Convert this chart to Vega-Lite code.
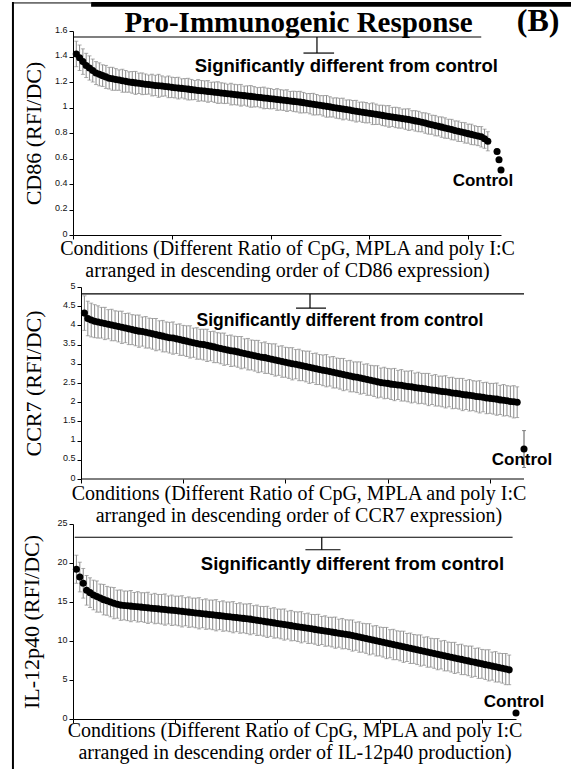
{
  "$schema": "https://vega.github.io/schema/vega-lite/v6.json",
  "background": "white",
  "padding": {"left": 11, "top": 0, "right": 0, "bottom": 0},
  "bounds": "flush",
  "spacing": 52,
  "config": {
    "view": {"stroke": null},
    "axis": {"grid": false, "domainColor": "black", "tickColor": "black", "tickSize": 4, "domainWidth": 1, "tickWidth": 1,
      "labelFont": "Liberation Sans", "labelFontSize": 9, "labelColor": "#111", "labelPadding": 2, "labelOverlap": false, "labelBound": false,
      "titleFont": "Liberation Serif", "titleFontSize": 20, "titleFontWeight": "normal", "titleColor": "black", "titleLineHeight": 22}
  },
  "datasets": {
    "cd86": [
      {"i":1,"v":1.42,"e":0.1},{"i":2,"v":1.39,"e":0.1},{"i":3,"v":1.36,"e":0.1},{"i":4,"v":1.33,"e":0.095},{"i":5,"v":1.31,"e":0.095},
      {"i":6,"v":1.29,"e":0.09},{"i":7,"v":1.27,"e":0.09},{"i":8,"v":1.26,"e":0.09},{"i":9,"v":1.25,"e":0.085},{"i":10,"v":1.24,"e":0.09},
      {"i":11,"v":1.23,"e":0.085},{"i":12,"v":1.225,"e":0.09},{"i":13,"v":1.22,"e":0.085},{"i":14,"v":1.215,"e":0.08},{"i":15,"v":1.21,"e":0.09},
      {"i":16,"v":1.205,"e":0.085},{"i":17,"v":1.2,"e":0.08},{"i":18,"v":1.197,"e":0.085},{"i":19,"v":1.193,"e":0.09},{"i":20,"v":1.19,"e":0.08},
      {"i":21,"v":1.186,"e":0.085},{"i":22,"v":1.183,"e":0.08},{"i":23,"v":1.18,"e":0.075},{"i":24,"v":1.176,"e":0.085},{"i":25,"v":1.173,"e":0.08},
      {"i":26,"v":1.17,"e":0.09},{"i":27,"v":1.168,"e":0.08},{"i":28,"v":1.165,"e":0.075},{"i":29,"v":1.162,"e":0.085},{"i":30,"v":1.158,"e":0.08},
      {"i":31,"v":1.155,"e":0.08},{"i":32,"v":1.152,"e":0.085},{"i":33,"v":1.15,"e":0.075},{"i":34,"v":1.147,"e":0.08},{"i":35,"v":1.144,"e":0.085},
      {"i":36,"v":1.14,"e":0.08},{"i":37,"v":1.137,"e":0.075},{"i":38,"v":1.134,"e":0.085},{"i":39,"v":1.132,"e":0.08},{"i":40,"v":1.129,"e":0.08},
      {"i":41,"v":1.126,"e":0.085},{"i":42,"v":1.123,"e":0.075},{"i":43,"v":1.12,"e":0.08},{"i":44,"v":1.117,"e":0.085},{"i":45,"v":1.114,"e":0.08},
      {"i":46,"v":1.111,"e":0.08},{"i":47,"v":1.108,"e":0.075},{"i":48,"v":1.105,"e":0.085},{"i":49,"v":1.102,"e":0.08},{"i":50,"v":1.099,"e":0.08},
      {"i":51,"v":1.096,"e":0.085},{"i":52,"v":1.093,"e":0.075},{"i":53,"v":1.09,"e":0.08},{"i":54,"v":1.087,"e":0.085},{"i":55,"v":1.084,"e":0.08},
      {"i":56,"v":1.081,"e":0.075},{"i":57,"v":1.078,"e":0.08},{"i":58,"v":1.075,"e":0.085},{"i":59,"v":1.072,"e":0.08},{"i":60,"v":1.069,"e":0.08},
      {"i":61,"v":1.066,"e":0.075},{"i":62,"v":1.063,"e":0.085},{"i":63,"v":1.06,"e":0.08},{"i":64,"v":1.057,"e":0.08},{"i":65,"v":1.054,"e":0.085},
      {"i":66,"v":1.051,"e":0.075},{"i":67,"v":1.048,"e":0.08},{"i":68,"v":1.045,"e":0.08},{"i":69,"v":1.042,"e":0.085},{"i":70,"v":1.038,"e":0.08},
      {"i":71,"v":1.034,"e":0.075},{"i":72,"v":1.03,"e":0.08},{"i":73,"v":1.026,"e":0.085},{"i":74,"v":1.022,"e":0.08},{"i":75,"v":1.018,"e":0.075},
      {"i":76,"v":1.013,"e":0.08},{"i":77,"v":1.009,"e":0.085},{"i":78,"v":1.005,"e":0.08},{"i":79,"v":1.0,"e":0.075},{"i":80,"v":0.996,"e":0.08},
      {"i":81,"v":0.992,"e":0.08},{"i":82,"v":0.988,"e":0.085},{"i":83,"v":0.984,"e":0.075},{"i":84,"v":0.98,"e":0.08},{"i":85,"v":0.975,"e":0.08},
      {"i":86,"v":0.971,"e":0.085},{"i":87,"v":0.967,"e":0.075},{"i":88,"v":0.963,"e":0.08},{"i":89,"v":0.959,"e":0.08},{"i":90,"v":0.955,"e":0.075},
      {"i":91,"v":0.951,"e":0.085},{"i":92,"v":0.947,"e":0.08},{"i":93,"v":0.943,"e":0.075},{"i":94,"v":0.938,"e":0.08},{"i":95,"v":0.934,"e":0.08},
      {"i":96,"v":0.93,"e":0.085},{"i":97,"v":0.926,"e":0.075},{"i":98,"v":0.922,"e":0.08},{"i":99,"v":0.918,"e":0.08},{"i":100,"v":0.913,"e":0.075},
      {"i":101,"v":0.909,"e":0.08},{"i":102,"v":0.905,"e":0.085},{"i":103,"v":0.9,"e":0.075},{"i":104,"v":0.895,"e":0.08},{"i":105,"v":0.89,"e":0.08},
      {"i":106,"v":0.884,"e":0.075},{"i":107,"v":0.878,"e":0.08},{"i":108,"v":0.871,"e":0.08},{"i":109,"v":0.865,"e":0.075},{"i":110,"v":0.858,"e":0.08},
      {"i":111,"v":0.852,"e":0.075},{"i":112,"v":0.846,"e":0.08},{"i":113,"v":0.839,"e":0.08},{"i":114,"v":0.833,"e":0.075},{"i":115,"v":0.827,"e":0.08},
      {"i":116,"v":0.82,"e":0.075},{"i":117,"v":0.814,"e":0.08},{"i":118,"v":0.808,"e":0.075},{"i":119,"v":0.801,"e":0.08},{"i":120,"v":0.795,"e":0.075},
      {"i":121,"v":0.789,"e":0.08},{"i":122,"v":0.782,"e":0.075},{"i":123,"v":0.776,"e":0.075},{"i":124,"v":0.77,"e":0.08},{"i":125,"v":0.755,"e":0.075},
      {"i":126,"v":0.735,"e":0.075},{"i":128.8,"v":0.655,"e":0.02},{"i":129.4,"v":0.59,"e":0.02}
    ],
    "ccr7": [
      {"i":1,"v":4.32,"e":0.45},{"i":2,"v":4.18,"e":0.45},{"i":3,"v":4.14,"e":0.44},{"i":4,"v":4.11,"e":0.43},{"i":5,"v":4.09,"e":0.42},
      {"i":6,"v":4.07,"e":0.4},{"i":7,"v":4.05,"e":0.42},{"i":8,"v":4.03,"e":0.38},{"i":9,"v":4.01,"e":0.41},{"i":10,"v":3.99,"e":0.39},
      {"i":11,"v":3.97,"e":0.4},{"i":12,"v":3.95,"e":0.42},{"i":13,"v":3.93,"e":0.38},{"i":14,"v":3.91,"e":0.41},{"i":15,"v":3.89,"e":0.39},
      {"i":16,"v":3.87,"e":0.4},{"i":17,"v":3.85,"e":0.42},{"i":18,"v":3.84,"e":0.38},{"i":19,"v":3.82,"e":0.41},{"i":20,"v":3.8,"e":0.39},
      {"i":21,"v":3.78,"e":0.4},{"i":22,"v":3.76,"e":0.42},{"i":23,"v":3.74,"e":0.38},{"i":24,"v":3.72,"e":0.41},{"i":25,"v":3.7,"e":0.39},
      {"i":26,"v":3.68,"e":0.4},{"i":27,"v":3.67,"e":0.42},{"i":28,"v":3.65,"e":0.38},{"i":29,"v":3.63,"e":0.41},{"i":30,"v":3.61,"e":0.39},
      {"i":31,"v":3.59,"e":0.4},{"i":32,"v":3.57,"e":0.42},{"i":33,"v":3.55,"e":0.38},{"i":34,"v":3.53,"e":0.41},{"i":35,"v":3.51,"e":0.39},
      {"i":36,"v":3.5,"e":0.4},{"i":37,"v":3.48,"e":0.42},{"i":38,"v":3.46,"e":0.38},{"i":39,"v":3.44,"e":0.41},{"i":40,"v":3.42,"e":0.39},
      {"i":41,"v":3.4,"e":0.4},{"i":42,"v":3.38,"e":0.42},{"i":43,"v":3.36,"e":0.38},{"i":44,"v":3.34,"e":0.41},{"i":45,"v":3.33,"e":0.39},
      {"i":46,"v":3.31,"e":0.4},{"i":47,"v":3.29,"e":0.42},{"i":48,"v":3.27,"e":0.38},{"i":49,"v":3.25,"e":0.41},{"i":50,"v":3.23,"e":0.39},
      {"i":51,"v":3.21,"e":0.4},{"i":52,"v":3.19,"e":0.42},{"i":53,"v":3.17,"e":0.38},{"i":54,"v":3.16,"e":0.41},{"i":55,"v":3.14,"e":0.39},
      {"i":56,"v":3.12,"e":0.4},{"i":57,"v":3.1,"e":0.42},{"i":58,"v":3.08,"e":0.38},{"i":59,"v":3.06,"e":0.41},{"i":60,"v":3.04,"e":0.39},
      {"i":61,"v":3.02,"e":0.4},{"i":62,"v":3.0,"e":0.42},{"i":63,"v":2.99,"e":0.38},{"i":64,"v":2.97,"e":0.41},{"i":65,"v":2.95,"e":0.39},
      {"i":66,"v":2.93,"e":0.4},{"i":67,"v":2.91,"e":0.42},{"i":68,"v":2.89,"e":0.38},{"i":69,"v":2.87,"e":0.41},{"i":70,"v":2.85,"e":0.39},
      {"i":71,"v":2.83,"e":0.4},{"i":72,"v":2.82,"e":0.42},{"i":73,"v":2.8,"e":0.38},{"i":74,"v":2.78,"e":0.41},{"i":75,"v":2.76,"e":0.39},
      {"i":76,"v":2.74,"e":0.4},{"i":77,"v":2.72,"e":0.42},{"i":78,"v":2.7,"e":0.38},{"i":79,"v":2.68,"e":0.41},{"i":80,"v":2.66,"e":0.39},
      {"i":81,"v":2.65,"e":0.4},{"i":82,"v":2.63,"e":0.42},{"i":83,"v":2.61,"e":0.38},{"i":84,"v":2.59,"e":0.41},{"i":85,"v":2.57,"e":0.39},
      {"i":86,"v":2.55,"e":0.4},{"i":87,"v":2.53,"e":0.42},{"i":88,"v":2.51,"e":0.38},{"i":89,"v":2.5,"e":0.41},{"i":90,"v":2.49,"e":0.39},
      {"i":91,"v":2.47,"e":0.4},{"i":92,"v":2.46,"e":0.42},{"i":93,"v":2.45,"e":0.38},{"i":94,"v":2.44,"e":0.41},{"i":95,"v":2.42,"e":0.39},
      {"i":96,"v":2.41,"e":0.4},{"i":97,"v":2.4,"e":0.42},{"i":98,"v":2.38,"e":0.38},{"i":99,"v":2.37,"e":0.41},{"i":100,"v":2.36,"e":0.39},
      {"i":101,"v":2.35,"e":0.4},{"i":102,"v":2.33,"e":0.42},{"i":103,"v":2.32,"e":0.38},{"i":104,"v":2.31,"e":0.41},{"i":105,"v":2.29,"e":0.39},
      {"i":106,"v":2.28,"e":0.4},{"i":107,"v":2.27,"e":0.42},{"i":108,"v":2.26,"e":0.38},{"i":109,"v":2.24,"e":0.41},{"i":110,"v":2.23,"e":0.39},
      {"i":111,"v":2.22,"e":0.4},{"i":112,"v":2.2,"e":0.42},{"i":113,"v":2.19,"e":0.38},{"i":114,"v":2.18,"e":0.41},{"i":115,"v":2.17,"e":0.39},
      {"i":116,"v":2.15,"e":0.4},{"i":117,"v":2.14,"e":0.42},{"i":118,"v":2.13,"e":0.38},{"i":119,"v":2.11,"e":0.41},{"i":120,"v":2.1,"e":0.39},
      {"i":121,"v":2.09,"e":0.4},{"i":122,"v":2.08,"e":0.42},{"i":123,"v":2.06,"e":0.38},{"i":124,"v":2.05,"e":0.41},{"i":125,"v":2.04,"e":0.39},
      {"i":126,"v":2.02,"e":0.4},{"i":127,"v":2.01,"e":0.42},{"i":128,"v":2.0,"e":0.4}
    ],
    "il12": [
      {"i":1,"v":19.2,"e":1.8},{"i":2,"v":18.2,"e":1.9},{"i":3,"v":17.4,"e":1.9},{"i":4,"v":16.5,"e":1.9},{"i":5,"v":16.2,"e":1.9},
      {"i":6,"v":15.9,"e":1.9},{"i":7,"v":15.7,"e":2.0},{"i":8,"v":15.5,"e":1.8},{"i":9,"v":15.3,"e":1.95},{"i":10,"v":15.15,"e":1.85},
      {"i":11,"v":15.0,"e":1.9},{"i":12,"v":14.85,"e":2.0},{"i":13,"v":14.72,"e":1.8},{"i":14,"v":14.6,"e":1.95},{"i":15,"v":14.56,"e":1.85},
      {"i":16,"v":14.51,"e":1.9},{"i":17,"v":14.47,"e":2.0},{"i":18,"v":14.42,"e":1.8},{"i":19,"v":14.38,"e":1.95},{"i":20,"v":14.34,"e":1.85},
      {"i":21,"v":14.29,"e":1.9},{"i":22,"v":14.25,"e":2.0},{"i":23,"v":14.2,"e":1.8},{"i":24,"v":14.16,"e":1.95},{"i":25,"v":14.12,"e":1.85},
      {"i":26,"v":14.07,"e":1.9},{"i":27,"v":14.03,"e":2.0},{"i":28,"v":13.98,"e":1.8},{"i":29,"v":13.94,"e":1.95},{"i":30,"v":13.9,"e":1.85},
      {"i":31,"v":13.85,"e":1.9},{"i":32,"v":13.8,"e":2.0},{"i":33,"v":13.75,"e":1.8},{"i":34,"v":13.7,"e":1.95},{"i":35,"v":13.65,"e":1.85},
      {"i":36,"v":13.6,"e":1.9},{"i":37,"v":13.55,"e":2.0},{"i":38,"v":13.5,"e":1.8},{"i":39,"v":13.45,"e":1.95},{"i":40,"v":13.4,"e":1.85},
      {"i":41,"v":13.35,"e":1.9},{"i":42,"v":13.3,"e":2.0},{"i":43,"v":13.25,"e":1.8},{"i":44,"v":13.2,"e":1.95},{"i":45,"v":13.15,"e":1.85},
      {"i":46,"v":13.1,"e":1.9},{"i":47,"v":13.05,"e":2.0},{"i":48,"v":13.0,"e":1.8},{"i":49,"v":12.95,"e":1.95},{"i":50,"v":12.9,"e":1.85},
      {"i":51,"v":12.85,"e":1.9},{"i":52,"v":12.8,"e":2.0},{"i":53,"v":12.73,"e":1.8},{"i":54,"v":12.66,"e":1.95},{"i":55,"v":12.59,"e":1.85},
      {"i":56,"v":12.52,"e":1.9},{"i":57,"v":12.45,"e":2.0},{"i":58,"v":12.39,"e":1.8},{"i":59,"v":12.32,"e":1.95},{"i":60,"v":12.25,"e":1.85},
      {"i":61,"v":12.18,"e":1.9},{"i":62,"v":12.11,"e":2.0},{"i":63,"v":12.04,"e":1.8},{"i":64,"v":11.97,"e":1.95},{"i":65,"v":11.9,"e":1.85},
      {"i":66,"v":11.83,"e":1.9},{"i":67,"v":11.76,"e":2.0},{"i":68,"v":11.7,"e":1.8},{"i":69,"v":11.63,"e":1.95},{"i":70,"v":11.56,"e":1.85},
      {"i":71,"v":11.49,"e":1.9},{"i":72,"v":11.42,"e":2.0},{"i":73,"v":11.35,"e":1.8},{"i":74,"v":11.28,"e":1.95},{"i":75,"v":11.21,"e":1.85},
      {"i":76,"v":11.14,"e":1.9},{"i":77,"v":11.07,"e":2.0},{"i":78,"v":11.0,"e":1.8},{"i":79,"v":10.94,"e":1.95},{"i":80,"v":10.87,"e":1.85},
      {"i":81,"v":10.8,"e":1.9},{"i":82,"v":10.7,"e":2.0},{"i":83,"v":10.61,"e":1.8},{"i":84,"v":10.51,"e":1.95},{"i":85,"v":10.42,"e":1.85},
      {"i":86,"v":10.32,"e":1.9},{"i":87,"v":10.22,"e":2.0},{"i":88,"v":10.13,"e":1.8},{"i":89,"v":10.03,"e":1.95},{"i":90,"v":9.94,"e":1.85},
      {"i":91,"v":9.84,"e":1.9},{"i":92,"v":9.74,"e":2.0},{"i":93,"v":9.65,"e":1.8},{"i":94,"v":9.55,"e":1.95},{"i":95,"v":9.46,"e":1.85},
      {"i":96,"v":9.36,"e":1.9},{"i":97,"v":9.26,"e":2.0},{"i":98,"v":9.17,"e":1.8},{"i":99,"v":9.07,"e":1.95},{"i":100,"v":8.98,"e":1.85},
      {"i":101,"v":8.88,"e":1.9},{"i":102,"v":8.78,"e":2.0},{"i":103,"v":8.69,"e":1.8},{"i":104,"v":8.59,"e":1.95},{"i":105,"v":8.5,"e":1.85},
      {"i":106,"v":8.4,"e":1.9},{"i":107,"v":8.31,"e":2.0},{"i":108,"v":8.21,"e":1.8},{"i":109,"v":8.12,"e":1.95},{"i":110,"v":8.02,"e":1.85},
      {"i":111,"v":7.92,"e":1.9},{"i":112,"v":7.83,"e":2.0},{"i":113,"v":7.73,"e":1.8},{"i":114,"v":7.64,"e":1.95},{"i":115,"v":7.54,"e":1.85},
      {"i":116,"v":7.45,"e":1.9},{"i":117,"v":7.35,"e":2.0},{"i":118,"v":7.26,"e":1.8},{"i":119,"v":7.16,"e":1.95},{"i":120,"v":7.07,"e":1.85},
      {"i":121,"v":6.97,"e":1.9},{"i":122,"v":6.88,"e":2.0},{"i":123,"v":6.78,"e":1.8},{"i":124,"v":6.69,"e":1.95},{"i":125,"v":6.59,"e":1.85},
      {"i":126,"v":6.5,"e":1.9},{"i":127,"v":6.4,"e":2.0},{"i":128,"v":6.3,"e":1.9}
    ],
    "ctrl1": [{"i":130,"v":0.51,"e":0.02}],
    "ctrl2": [{"i":130,"v":0.78,"e":0.48}],
    "ctrl3": [{"i":130,"v":0.77,"e":0.3}],
    "one": [{"k":1}]
  },
  "vconcat": [
    {
      "width": 428, "height": 204,
      "layer": [
        {"data": {"name": "cd86"}, "mark": {"type": "errorbar", "ticks": true, "size": 4, "thickness": 1, "color": "#8a8a8a"},
          "encoding": {
            "x": {"field": "i", "type": "quantitative", "scale": {"domain": [0, 130], "nice": false, "zero": false},
              "axis": {"title": ["Conditions (Different Ratio of CpG, MPLA and poly I:C", "arranged in descending order of CD86 expression)"], "values": [0, 30, 60, 90, 120], "tickCount": 30, "labels": false, "titlePadding": -1}},
            "y": {"field": "v", "type": "quantitative", "scale": {"domain": [0, 1.6], "nice": false},
              "axis": {"title": "CD86 (RFI/DC)", "titleFontSize": 22, "values": [0, 0.2, 0.4, 0.6, 0.8, 1, 1.2, 1.4, 1.6], "tickCount": 30, "format": "~g", "titlePadding": 9, "labelOverlap": false, "labelOffset": -2}},
            "yError": {"field": "e"}}},
        {"data": {"name": "cd86"}, "mark": {"type": "point", "filled": true, "color": "black", "size": 50, "opacity": 1},
          "encoding": {
            "x": {"field": "i", "type": "quantitative", "scale": {"domain": [0, 130], "nice": false, "zero": false},
              "axis": {"title": ["Conditions (Different Ratio of CpG, MPLA and poly I:C", "arranged in descending order of CD86 expression)"], "values": [0, 30, 60, 90, 120], "tickCount": 30, "labels": false, "titlePadding": -1}},
            "y": {"field": "v", "type": "quantitative", "scale": {"domain": [0, 1.6], "nice": false},
              "axis": {"title": "CD86 (RFI/DC)", "titleFontSize": 22, "values": [0, 0.2, 0.4, 0.6, 0.8, 1, 1.2, 1.4, 1.6], "tickCount": 30, "format": "~g", "titlePadding": 9, "labelOverlap": false, "labelOffset": -2}}}},
        {"data": {"name": "ctrl1"}, "mark": {"type": "errorbar", "ticks": true, "size": 4, "thickness": 1, "color": "#555"},
          "encoding": {
            "x": {"field": "i", "type": "quantitative", "scale": {"domain": [0, 130], "nice": false, "zero": false},
              "axis": {"title": ["Conditions (Different Ratio of CpG, MPLA and poly I:C", "arranged in descending order of CD86 expression)"], "values": [0, 30, 60, 90, 120], "tickCount": 30, "labels": false, "titlePadding": -1}},
            "y": {"field": "v", "type": "quantitative", "scale": {"domain": [0, 1.6], "nice": false},
              "axis": {"title": "CD86 (RFI/DC)", "titleFontSize": 22, "values": [0, 0.2, 0.4, 0.6, 0.8, 1, 1.2, 1.4, 1.6], "tickCount": 30, "format": "~g", "titlePadding": 9, "labelOverlap": false, "labelOffset": -2}},
            "yError": {"field": "e"}}},
        {"data": {"name": "ctrl1"}, "mark": {"type": "point", "filled": true, "color": "black", "size": 50, "opacity": 1},
          "encoding": {
            "x": {"field": "i", "type": "quantitative", "scale": {"domain": [0, 130], "nice": false, "zero": false},
              "axis": {"title": ["Conditions (Different Ratio of CpG, MPLA and poly I:C", "arranged in descending order of CD86 expression)"], "values": [0, 30, 60, 90, 120], "tickCount": 30, "labels": false, "titlePadding": -1}},
            "y": {"field": "v", "type": "quantitative", "scale": {"domain": [0, 1.6], "nice": false},
              "axis": {"title": "CD86 (RFI/DC)", "titleFontSize": 22, "values": [0, 0.2, 0.4, 0.6, 0.8, 1, 1.2, 1.4, 1.6], "tickCount": 30, "format": "~g", "titlePadding": 9, "labelOverlap": false, "labelOffset": -2}}}},
        {"data": {"name": "one"}, "mark": {"type": "rule", "color": "black", "strokeWidth": 2},
          "encoding": {"x": {"datum": -18.24}, "y": {"datum": 1.8275}, "y2": {"datum": -4.204}}},
        {"data": {"name": "one"}, "mark": {"type": "rect", "color": "black"},
          "encoding": {"x": {"datum": 5.5}, "x2": {"datum": 151.7}, "y": {"datum": 1.8275}, "y2": {"datum": 1.79}}},
        {"data": {"name": "one"}, "mark": {"type": "rule", "color": "black", "strokeWidth": 1},
          "encoding": {"x": {"datum": -18.24}, "x2": {"datum": 5.5}, "y": {"datum": 1.82}}},
        {"data": {"name": "one"}, "mark": {"type": "rule", "color": "black", "strokeWidth": 1.2},
          "encoding": {"x": {"datum": 0.3}, "x2": {"datum": 124}, "y": {"datum": 1.553}}},
        {"data": {"name": "one"}, "mark": {"type": "rule", "color": "black", "strokeWidth": 1.2},
          "encoding": {"x": {"datum": 74.1}, "y": {"datum": 1.553}, "y2": {"datum": 1.427}}},
        {"data": {"name": "one"}, "mark": {"type": "rule", "color": "black", "strokeWidth": 1.2},
          "encoding": {"x": {"datum": 70}, "x2": {"datum": 79.3}, "y": {"datum": 1.427}}},
        {"data": {"name": "one"}, "mark": {"type": "text", "font": "Liberation Sans", "fontWeight": "bold", "fontSize": 18.5, "baseline": "middle", "align": "center", "color": "black"},
          "encoding": {"x": {"datum": 83}, "y": {"datum": 1.325}, "text": {"value": "Significantly different from control"}}},
        {"data": {"name": "one"}, "mark": {"type": "text", "font": "Liberation Sans", "fontWeight": "bold", "fontSize": 17, "baseline": "middle", "align": "center", "color": "black"},
          "encoding": {"x": {"datum": 124.5}, "y": {"datum": 0.42}, "text": {"value": "Control"}}},
        {"data": {"name": "one"}, "mark": {"type": "text", "font": "Liberation Serif", "fontWeight": "bold", "fontSize": 29, "baseline": "alphabetic", "align": "center", "color": "black"},
          "encoding": {"x": {"datum": 68.5}, "y": {"datum": 1.595}, "text": {"value": "Pro-Immunogenic Response"}}},
        {"data": {"name": "one"}, "mark": {"type": "text", "font": "Liberation Serif", "fontWeight": "bold", "fontSize": 32, "baseline": "alphabetic", "align": "center", "color": "black"},
          "encoding": {"x": {"datum": 141.3}, "y": {"datum": 1.6}, "text": {"value": "(B)"}}}
      ]
    },
    {
      "bounds": "flush",
      "spacing": 45,
      "vconcat": [
        {
          "width": 451, "height": 192,
          "layer": [
            {"data": {"name": "ccr7"}, "mark": {"type": "errorbar", "ticks": true, "size": 4, "thickness": 1, "color": "#8a8a8a"},
              "encoding": {
                "x": {"field": "i", "type": "quantitative", "scale": {"domain": [-2.35, 130], "nice": false, "zero": false},
                  "axis": {"title": ["Conditions (Different Ratio of CpG, MPLA and poly I:C", "arranged in descending order of CCR7 expression)"], "values": [0, 30, 60, 90, 120], "tickCount": 30, "labels": false, "domain": false, "titlePadding": 0}},
                "y": {"field": "v", "type": "quantitative", "scale": {"domain": [0, 5], "nice": false},
                  "axis": {"title": "CCR7 (RFI/DC)", "titleFontSize": 22, "values": [0, 0.5, 1, 1.5, 2, 2.5, 3, 3.5, 4, 4.5, 5], "tickCount": 30, "format": "~g", "titlePadding": 17, "offset": -8, "labelOverlap": false, "labelOffset": -2}},
                "yError": {"field": "e"}}},
            {"data": {"name": "ccr7"}, "mark": {"type": "point", "filled": true, "color": "black", "size": 50, "opacity": 1},
              "encoding": {
                "x": {"field": "i", "type": "quantitative", "scale": {"domain": [-2.35, 130], "nice": false, "zero": false},
                  "axis": {"title": ["Conditions (Different Ratio of CpG, MPLA and poly I:C", "arranged in descending order of CCR7 expression)"], "values": [0, 30, 60, 90, 120], "tickCount": 30, "labels": false, "domain": false, "titlePadding": 0}},
                "y": {"field": "v", "type": "quantitative", "scale": {"domain": [0, 5], "nice": false},
                  "axis": {"title": "CCR7 (RFI/DC)", "titleFontSize": 22, "values": [0, 0.5, 1, 1.5, 2, 2.5, 3, 3.5, 4, 4.5, 5], "tickCount": 30, "format": "~g", "titlePadding": 17, "offset": -8, "labelOverlap": false, "labelOffset": -2}}}},
            {"data": {"name": "ctrl2"}, "mark": {"type": "errorbar", "ticks": true, "size": 4, "thickness": 1, "color": "#555"},
              "encoding": {
                "x": {"field": "i", "type": "quantitative", "scale": {"domain": [-2.35, 130], "nice": false, "zero": false},
                  "axis": {"title": ["Conditions (Different Ratio of CpG, MPLA and poly I:C", "arranged in descending order of CCR7 expression)"], "values": [0, 30, 60, 90, 120], "tickCount": 30, "labels": false, "domain": false, "titlePadding": 0}},
                "y": {"field": "v", "type": "quantitative", "scale": {"domain": [0, 5], "nice": false},
                  "axis": {"title": "CCR7 (RFI/DC)", "titleFontSize": 22, "values": [0, 0.5, 1, 1.5, 2, 2.5, 3, 3.5, 4, 4.5, 5], "tickCount": 30, "format": "~g", "titlePadding": 17, "offset": -8, "labelOverlap": false, "labelOffset": -2}},
                "yError": {"field": "e"}}},
            {"data": {"name": "ctrl2"}, "mark": {"type": "point", "filled": true, "color": "black", "size": 50, "opacity": 1},
              "encoding": {
                "x": {"field": "i", "type": "quantitative", "scale": {"domain": [-2.35, 130], "nice": false, "zero": false},
                  "axis": {"title": ["Conditions (Different Ratio of CpG, MPLA and poly I:C", "arranged in descending order of CCR7 expression)"], "values": [0, 30, 60, 90, 120], "tickCount": 30, "labels": false, "domain": false, "titlePadding": 0}},
                "y": {"field": "v", "type": "quantitative", "scale": {"domain": [0, 5], "nice": false},
                  "axis": {"title": "CCR7 (RFI/DC)", "titleFontSize": 22, "values": [0, 0.5, 1, 1.5, 2, 2.5, 3, 3.5, 4, 4.5, 5], "tickCount": 30, "format": "~g", "titlePadding": 17, "offset": -8, "labelOverlap": false, "labelOffset": -2}}}},
            {"data": {"name": "one"}, "mark": {"type": "rule", "color": "black", "strokeWidth": 1},
              "encoding": {"x": {"datum": 0}, "x2": {"datum": 130}, "y": {"datum": 0}}},
            {"data": {"name": "one"}, "mark": {"type": "rule", "color": "black", "strokeWidth": 1.2},
              "encoding": {"x": {"datum": 0.3}, "x2": {"datum": 130}, "y": {"datum": 4.82}}},
            {"data": {"name": "one"}, "mark": {"type": "rule", "color": "black", "strokeWidth": 1.2},
              "encoding": {"x": {"datum": 67.2}, "y": {"datum": 4.82}, "y2": {"datum": 4.45}}},
            {"data": {"name": "one"}, "mark": {"type": "rule", "color": "black", "strokeWidth": 1.2},
              "encoding": {"x": {"datum": 63.1}, "x2": {"datum": 71.9}, "y": {"datum": 4.45}}},
            {"data": {"name": "one"}, "mark": {"type": "text", "font": "Liberation Sans", "fontWeight": "bold", "fontSize": 17.5, "baseline": "middle", "align": "center", "color": "black"},
              "encoding": {"x": {"datum": 76}, "y": {"datum": 4.11}, "text": {"value": "Significantly different from control"}}},
            {"data": {"name": "one"}, "mark": {"type": "text", "font": "Liberation Sans", "fontWeight": "bold", "fontSize": 17, "baseline": "middle", "align": "center", "color": "black"},
              "encoding": {"x": {"datum": 129.4}, "y": {"datum": 0.49}, "text": {"value": "Control"}}}
          ]
        },
        {
          "width": 443, "height": 195,
          "layer": [
            {"data": {"name": "il12"}, "mark": {"type": "errorbar", "ticks": true, "size": 4, "thickness": 1, "color": "#8a8a8a"},
              "encoding": {
                "x": {"field": "i", "type": "quantitative", "scale": {"domain": [0, 130], "nice": false, "zero": false},
                  "axis": {"title": ["Conditions (Different Ratio of CpG, MPLA and poly I:C", "arranged in descending order of IL-12p40 production)"], "values": [0, 30, 60, 90, 120], "tickCount": 30, "labels": false, "titlePadding": -3}},
                "y": {"field": "v", "type": "quantitative", "scale": {"domain": [0, 25], "nice": false},
                  "axis": {"title": "IL-12p40 (RFI/DC)", "titleFontSize": 22, "values": [0, 5, 10, 15, 20, 25], "tickCount": 30, "format": "~g", "titlePadding": 13, "labelOverlap": false, "labelOffset": -2}},
                "yError": {"field": "e"}}},
            {"data": {"name": "il12"}, "mark": {"type": "point", "filled": true, "color": "black", "size": 50, "opacity": 1},
              "encoding": {
                "x": {"field": "i", "type": "quantitative", "scale": {"domain": [0, 130], "nice": false, "zero": false},
                  "axis": {"title": ["Conditions (Different Ratio of CpG, MPLA and poly I:C", "arranged in descending order of IL-12p40 production)"], "values": [0, 30, 60, 90, 120], "tickCount": 30, "labels": false, "titlePadding": -3}},
                "y": {"field": "v", "type": "quantitative", "scale": {"domain": [0, 25], "nice": false},
                  "axis": {"title": "IL-12p40 (RFI/DC)", "titleFontSize": 22, "values": [0, 5, 10, 15, 20, 25], "tickCount": 30, "format": "~g", "titlePadding": 13, "labelOverlap": false, "labelOffset": -2}}}},
            {"data": {"name": "ctrl3"}, "mark": {"type": "errorbar", "ticks": true, "size": 4, "thickness": 1, "color": "#555"},
              "encoding": {
                "x": {"field": "i", "type": "quantitative", "scale": {"domain": [0, 130], "nice": false, "zero": false},
                  "axis": {"title": ["Conditions (Different Ratio of CpG, MPLA and poly I:C", "arranged in descending order of IL-12p40 production)"], "values": [0, 30, 60, 90, 120], "tickCount": 30, "labels": false, "titlePadding": -3}},
                "y": {"field": "v", "type": "quantitative", "scale": {"domain": [0, 25], "nice": false},
                  "axis": {"title": "IL-12p40 (RFI/DC)", "titleFontSize": 22, "values": [0, 5, 10, 15, 20, 25], "tickCount": 30, "format": "~g", "titlePadding": 13, "labelOverlap": false, "labelOffset": -2}},
                "yError": {"field": "e"}}},
            {"data": {"name": "ctrl3"}, "mark": {"type": "point", "filled": true, "color": "black", "size": 50, "opacity": 1},
              "encoding": {
                "x": {"field": "i", "type": "quantitative", "scale": {"domain": [0, 130], "nice": false, "zero": false},
                  "axis": {"title": ["Conditions (Different Ratio of CpG, MPLA and poly I:C", "arranged in descending order of IL-12p40 production)"], "values": [0, 30, 60, 90, 120], "tickCount": 30, "labels": false, "titlePadding": -3}},
                "y": {"field": "v", "type": "quantitative", "scale": {"domain": [0, 25], "nice": false},
                  "axis": {"title": "IL-12p40 (RFI/DC)", "titleFontSize": 22, "values": [0, 5, 10, 15, 20, 25], "tickCount": 30, "format": "~g", "titlePadding": 13, "labelOverlap": false, "labelOffset": -2}}}},
            {"data": {"name": "one"}, "mark": {"type": "rule", "color": "black", "strokeWidth": 1.2},
              "encoding": {"x": {"datum": 0.5}, "x2": {"datum": 129}, "y": {"datum": 23.3}}},
            {"data": {"name": "one"}, "mark": {"type": "rule", "color": "black", "strokeWidth": 1.2},
              "encoding": {"x": {"datum": 73}, "y": {"datum": 23.3}, "y2": {"datum": 21.7}}},
            {"data": {"name": "one"}, "mark": {"type": "rule", "color": "black", "strokeWidth": 1.2},
              "encoding": {"x": {"datum": 68.2}, "x2": {"datum": 78.5}, "y": {"datum": 21.7}}},
            {"data": {"name": "one"}, "mark": {"type": "text", "font": "Liberation Sans", "fontWeight": "bold", "fontSize": 18.5, "baseline": "middle", "align": "center", "color": "black"},
              "encoding": {"x": {"datum": 82}, "y": {"datum": 19.9}, "text": {"value": "Significantly different from control"}}},
            {"data": {"name": "one"}, "mark": {"type": "text", "font": "Liberation Sans", "fontWeight": "bold", "fontSize": 17, "baseline": "middle", "align": "center", "color": "black"},
              "encoding": {"x": {"datum": 129.4}, "y": {"datum": 2.2}, "text": {"value": "Control"}}}
          ]
        }
      ]
    }
  ]
}
